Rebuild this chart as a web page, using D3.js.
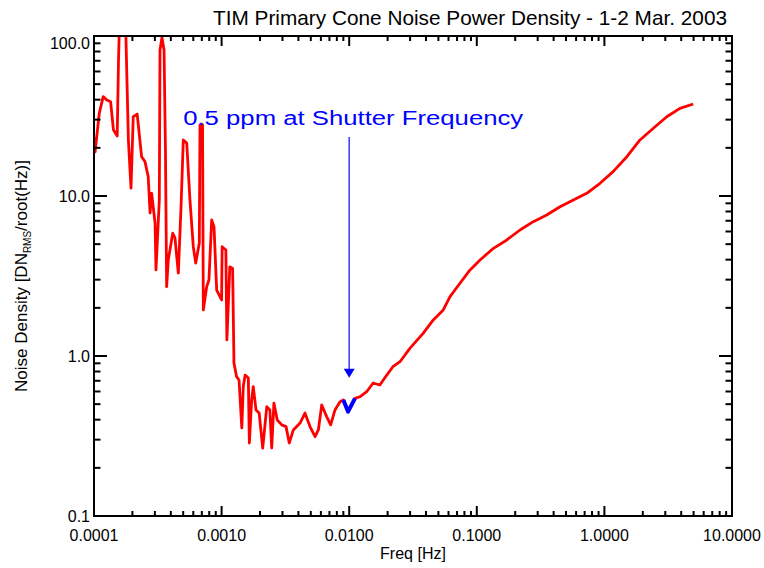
<!DOCTYPE html>
<html>
<head>
<meta charset="utf-8">
<script src="https://cdn.jsdelivr.net/npm/d3@7"></script>
<style>
body { margin: 0; background: #fff; }
svg text { font-family: "Liberation Sans", Arial, sans-serif; fill: #000; }
</style>
</head>
<body>
<div id="chart-area"></div>
<script>
// noise spectrum
var freq = [1.005e-4, 1.02e-4, 1.10e-4, 1.18e-4, 1.26e-4, 1.35e-4, 1.42e-4, 1.52e-4, 1.556e-4, 1.63e-4, 1.72e-4, 1.86e-4,
	1.95e-4, 2.03e-4, 2.18e-4, 2.36e-4, 2.51e-4, 2.66e-4, 2.75e-4, 2.83e-4, 3.01e-4, 3.06e-4, 3.25e-4, 3.29e-4,
	3.41e-4, 3.54e-4, 3.63e-4, 3.71e-4, 3.82e-4, 4.14e-4, 4.31e-4, 4.58e-4, 4.81e-4, 5.01e-4, 5.33e-4, 5.65e-4,
	6.00e-4, 6.27e-4, 6.69e-4, 6.77e-4, 7.09e-4, 7.19e-4, 7.64e-4, 7.96e-4, 8.36e-4, 8.72e-4, 9.15e-4, 1.0e-3,
	1.01e-3, 1.08e-3, 1.10e-3, 1.16e-3, 1.22e-3, 1.25e-3, 1.31e-3, 1.37e-3, 1.44e-3, 1.48e-3, 1.53e-3, 1.62e-3,
	1.65e-3, 1.72e-3, 1.77e-3, 1.86e-3, 1.97e-3, 2.10e-3, 2.26e-3, 2.39e-3, 2.47e-3, 2.57e-3, 2.73e-3, 2.96e-3,
	3.20e-3, 3.39e-3, 3.65e-3, 4.12e-3, 4.50e-3, 4.93e-3, 5.40e-3, 5.73e-3, 6.09e-3, 6.66e-3, 7.16e-3, 7.74e-3,
	8.47e-3, 8.99e-3, 9.84e-3, 1.11e-2, 1.22e-2, 1.37e-2, 1.54e-2, 1.74e-2, 1.97e-2, 2.20e-2, 2.50e-2, 3.00e-2,
	3.81e-2, 4.56e-2, 5.46e-2, 6.17e-2, 7.38e-2, 8.85e-2, 0.106, 0.135, 0.172, 0.218, 0.277, 0.353, 0.449, 0.571,
	0.727, 0.924, 1.17, 1.50, 1.90, 2.42, 3.08, 3.91, 4.97];
var density = [23.4, 18.9, 32.9, 41.8, 39.8, 38.8, 25.9, 23.7, 70, 300, 300, 22.4,
	11.2, 31.3, 32.5, 17.6, 16.4, 13.2, 7.83, 10.4, 6.78, 3.45, 9.44, 81.7,
	98, 81.7, 19.4, 2.71, 3.98, 5.85, 5.47, 3.30, 8.57, 22.4, 21.4, 9.44,
	4.82, 3.81, 5.09, 27.8, 27.8, 1.94, 2.71, 2.99, 7.08, 6.43, 2.58, 2.24,
	4.82, 4.60, 1.26, 3.61, 3.53, 0.904, 0.743, 0.708, 0.355, 0.649, 0.760, 0.729,
	0.286, 0.531, 0.643, 0.460, 0.440, 0.266, 0.482, 0.460, 0.266, 0.508, 0.398, 0.371,
	0.362, 0.286, 0.345, 0.381, 0.440, 0.362, 0.313, 0.345, 0.494, 0.418, 0.371, 0.460,
	0.518, 0.531, 0.449, 0.544, 0.557, 0.598, 0.678, 0.659, 0.760, 0.857, 0.921, 1.12,
	1.39, 1.68, 1.94, 2.35, 2.85, 3.45, 3.98, 4.71, 5.31, 6.13, 6.91, 7.61, 8.57, 9.44,
	10.4, 12.0, 14.2, 17.6, 22.4, 26.5, 31.3, 35.3, 37.6];

// shutter frequency highlight
var shutterFreq = [0.0090, 0.0098, 0.0111];
var shutterDensity = [0.531, 0.449, 0.544];

var xTickValues = [0.0001, 0.001, 0.01, 0.1, 1, 10];
var xTickLabels = ["0.0001", "0.0010", "0.0100", "0.1000", "1.0000", "10.0000"];
var yTickValues = [0.1, 1, 10, 100];
var yTickLabels = ["0.1", "1.0", "10.0", "100.0"];

var note = "0.5 ppm at Shutter Frequency";
var arrowFreq = 0.01, arrowFrom = 23.4, arrowTo = 0.73;
var noteFreq = 5.0e-4, noteValue = 27.7;

var W = 764, H = 568;
var margin = {top: 36, right: 732, bottom: 516, left: 94};  // plot box edges in px

var svg = d3.select("#chart-area").append("svg")
	.attr("width", W)
	.attr("height", H);

var x = d3.scaleLog().domain([1e-4, 10]).range([margin.left, margin.right]);
var y = d3.scaleLog().domain([0.1, 100]).range([margin.bottom, margin.top]);

function minors(lo, hi) {
	var out = [];
	for (var d = lo; d < hi; d *= 10) {
		for (var k = 2; k <= 9; k++) out.push(d * k);
	}
	return out;
}
var xMinor = minors(1e-4, 10);
var yMinor = minors(0.1, 100);

svg.append("defs").append("clipPath").attr("id", "plotclip")
	.append("rect").attr("x", margin.left).attr("y", margin.top)
	.attr("width", margin.right - margin.left).attr("height", margin.bottom - margin.top);

// data line
var line = d3.line()
	.x(function(d){ return x(d[0]); })
	.y(function(d){ return y(d[1]); });

svg.append("path")
	.datum(d3.zip(freq, density))
	.attr("clip-path", "url(#plotclip)")
	.attr("fill", "none")
	.attr("stroke", "#ff0000")
	.attr("stroke-width", 2.8)
	.attr("stroke-linejoin", "round")
	.attr("d", line);

svg.append("path")
	.datum(d3.zip(shutterFreq, shutterDensity))
	.attr("fill", "none")
	.attr("stroke", "#0000ff")
	.attr("stroke-width", 4)
	.attr("stroke-linejoin", "round")
	.attr("d", line);

// frame
var g = svg.append("g").attr("stroke", "#000").attr("stroke-width", 2);
g.append("rect").attr("x", margin.left).attr("y", margin.top)
	.attr("width", margin.right - margin.left).attr("height", margin.bottom - margin.top)
	.attr("fill", "none");

// x ticks (bottom + top, pointing in)
function xTicks(vals, len) {
	vals.forEach(function(v){
		var px = x(v);
		g.append("line").attr("x1", px).attr("x2", px).attr("y1", margin.bottom).attr("y2", margin.bottom - len);
		g.append("line").attr("x1", px).attr("x2", px).attr("y1", margin.top).attr("y2", margin.top + len);
	});
}
xTicks(xTickValues, 10);
xTicks(xMinor, 5);

function yTicks(vals, len) {
	vals.forEach(function(v){
		var py = y(v);
		g.append("line").attr("y1", py).attr("y2", py).attr("x1", margin.left).attr("x2", margin.left + len);
		g.append("line").attr("y1", py).attr("y2", py).attr("x1", margin.right).attr("x2", margin.right - len);
	});
}
yTicks(yTickValues, 13);
yTicks(yMinor, 6.5);

// tick labels
svg.selectAll(".xlab").data(xTickValues).enter().append("text")
	.attr("class", "xlab")
	.attr("x", function(d){ return x(d); })
	.attr("y", margin.bottom + 25)
	.attr("text-anchor", "middle")
	.attr("font-size", 16)
	.text(function(d, i){ return xTickLabels[i]; });

svg.selectAll(".ylab").data(yTickValues).enter().append("text")
	.attr("class", "ylab")
	.attr("x", margin.left - 4)
	.attr("y", function(d){ return Math.max(y(d), margin.top + 7) + 6; })
	.attr("text-anchor", "end")
	.attr("font-size", 16)
	.text(function(d, i){ return yTickLabels[i]; });

// titles
svg.append("text")
	.attr("x", 470).attr("y", 25)
	.attr("text-anchor", "middle")
	.attr("font-size", 21)
	.attr("textLength", 514)
	.attr("lengthAdjust", "spacingAndGlyphs")
	.text("TIM Primary Cone Noise Power Density - 1-2 Mar. 2003");

svg.append("text")
	.attr("x", (margin.left + margin.right) / 2).attr("y", 559)
	.attr("text-anchor", "middle")
	.attr("font-size", 16)
	.text("Freq [Hz]");

var yt = svg.append("text")
	.attr("transform", "translate(27," + ((margin.top + margin.bottom) / 2) + ") rotate(-90)")
	.attr("text-anchor", "middle")
	.attr("font-size", 17);
yt.append("tspan").text("Noise Density [DN");
yt.append("tspan").attr("font-size", 10).attr("dy", 4).text("RMS");
yt.append("tspan").attr("dy", -4).text("/root(Hz)]");

// annotation
svg.append("text")
	.attr("x", x(noteFreq)).attr("y", y(noteValue))
	.attr("font-size", 20)
	.attr("textLength", 340)
	.attr("lengthAdjust", "spacingAndGlyphs")
	.style("fill", "#0000ff")
	.text(note);

svg.append("line")
	.attr("x1", x(arrowFreq)).attr("x2", x(arrowFreq))
	.attr("y1", y(arrowFrom)).attr("y2", y(arrowTo) - 6)
	.attr("stroke", "#3a3aff").attr("stroke-width", 1.5);

var ax = x(arrowFreq), ay = y(arrowTo);
svg.append("path")
	.attr("d", "M" + (ax - 5.5) + "," + (ay - 9) + "L" + (ax + 5.5) + "," + (ay - 9) + "L" + ax + "," + ay + "Z")
	.attr("fill", "#0000ff");
</script>
</body>
</html>
